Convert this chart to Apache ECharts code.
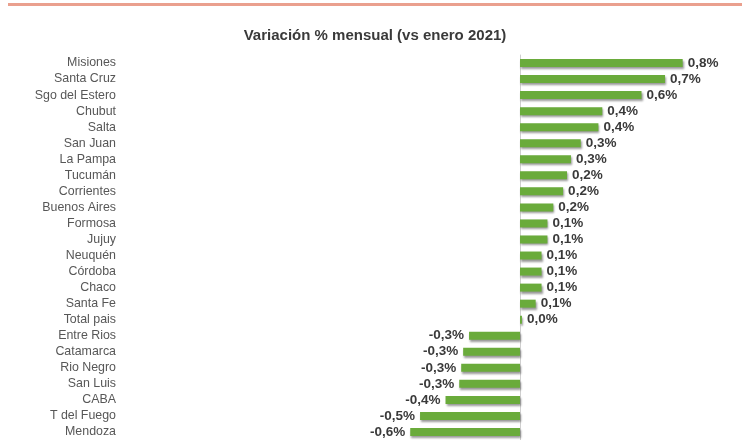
<!DOCTYPE html>
<html>
<head>
<meta charset="utf-8">
<script src="https://cdn.jsdelivr.net/npm/echarts@6/dist/echarts.min.js"></script>
<style>
html,body{margin:0;padding:0;background:#fff;}
#c{width:750px;height:440px;}
</style>
</head>
<body>
<div id="c"></div>
<script>
var categories = ["Misiones","Santa Cruz","Sgo del Estero","Chubut","Salta","San Juan","La Pampa","Tucumán","Corrientes","Buenos Aires","Formosa","Jujuy","Neuquén","Córdoba","Chaco","Santa Fe","Total pais","Entre Rios","Catamarca","Rio Negro","San Luis","CABA","T del Fuego","Mendoza"];
var values = [0.83,0.74,0.62,0.42,0.40,0.31,0.26,0.24,0.22,0.17,0.14,0.14,0.11,0.11,0.11,0.08,0.01,-0.26,-0.29,-0.30,-0.31,-0.38,-0.51,-0.56];
var titleText = "Variación % mensual (vs enero 2021)";

function fmt(v){ return v.toFixed(1).replace('.', ',') + '%'; }

var chart = echarts.init(document.getElementById('c'), null, {renderer:'canvas'});
chart.setOption({
  animation:false,
  backgroundColor:'#ffffff',
  title:{
    text:titleText, left:'center', top:23,
    textStyle:{fontFamily:'Liberation Sans, Arial, sans-serif', fontSize:15, fontWeight:'bold', color:'#3a3a3a'}
  },
  graphic:[{
    type:'rect', shape:{x:8,y:3,width:734,height:3},
    style:{fill:'#eaa08e'}
  }],
  grid:{left:128, width:588, top:55, height:386, containLabel:false},
  xAxis:{
    type:'value', min:-2, max:1, show:false
  },
  yAxis:{
    type:'category', data:categories, inverse:true,
    axisLine:{show:true, onZero:true, lineStyle:{color:'#cfcfcf', width:1}},
    axisTick:{show:false},
    axisLabel:{
      margin:12, fontFamily:'Liberation Sans, Arial, sans-serif', fontSize:12.4, color:'#575757'
    },
    position:'left'
  },
  series:[{
    type:'bar',
    barWidth:8,
    data:values.map(function(v){
      return {value:v, label:{position: v<0 ? 'left' : 'right'}};
    }),
    itemStyle:{
      color:'#6aab3b',
      shadowColor:'rgba(0,0,0,0.4)', shadowBlur:2, shadowOffsetX:1, shadowOffsetY:2
    },
    label:{
      show:true, distance:5,
      formatter:function(p){ return fmt(p.value); },
      fontFamily:'Liberation Sans, Arial, sans-serif', fontSize:13.5, fontWeight:'bold', color:'#3a3a3a'
    }
  }]
});
</script>
</body>
</html>
